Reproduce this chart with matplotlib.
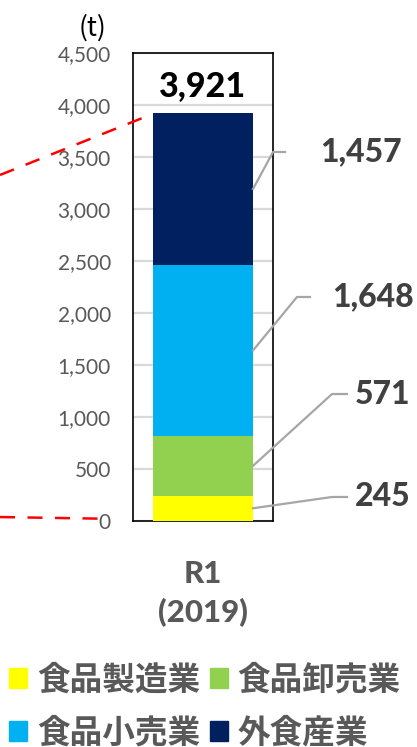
import numpy as np
import matplotlib
matplotlib.use("Agg")
import matplotlib.pyplot as plt
from matplotlib.patches import Patch

plt.rcParams['font.family'] = ['Lato', 'Noto Sans CJK JP', 'DejaVu Sans']

# data
category = "R1\n(2019)"
sectors = ["食品製造業", "食品卸売業", "食品小売業", "外食産業"]
values = [245, 571, 1648, 1457]
colors = ['#FFFF00', '#92D050', '#00B0F0', '#002060']

# dashed connectors coming from the (cut-off) previous bars
trend_top_x = [-2.03, -0.58]
trend_top_y = [3327, 3885]
trend_bottom_x = [-2.03, -1.0]
trend_bottom_y = [38, 22]

# leader line layout: (elbow x, elbow y, end x, text x), bottom to top
leader_layout = [(1.29, 231, 1.44, 1.52),
                 (1.29, 1221, 1.44, 1.52),
                 (0.94, 2154, 1.07, 1.29),
                 (0.70, 3548, 0.82, 1.17)]

label_gray = '#595959'
value_gray = '#404040'
leader_gray = '#A6A6A6'

fig = plt.figure(figsize=(4.17, 7.47), dpi=100)
ax = fig.add_axes([133/417, 1-521/747, 140/417, 468/747])

bottom = 0
for v, c in zip(values, colors):
    ax.bar(0, v, width=1.0, bottom=bottom, color=c, zorder=3)
    bottom += v
total = bottom

ax.set_xlim(-0.7, 0.7)
ax.set_ylim(0, 4500)
ax.set_yticks(np.arange(0, 4501, 500))
ax.set_yticklabels([f"{t:,}" for t in range(0, 4501, 500)])
ax.set_xticks([0])
ax.set_xticklabels([category])
ax.tick_params(axis='y', length=0, pad=16, labelsize=15, labelcolor=label_gray)
ax.tick_params(axis='x', length=0, pad=28)
for lbl in ax.get_xticklabels():
    lbl.set_fontsize(22.5)
    lbl.set_fontweight('black')
    lbl.set_color(label_gray)
    lbl.set_linespacing(1.4)
ax.grid(axis='y', color='#D9D9D9', linewidth=1.6, zorder=0)
for s in ax.spines.values():
    s.set_color('black')
    s.set_linewidth(1.2)

# total on top
ax.annotate(f"{total:,}", xy=(0, total), xytext=(0, 19), textcoords='offset points',
            ha='center', va='center', fontsize=24.5, fontweight='black', color='black')

# value labels with leader lines
cum = np.cumsum([0] + values)
for i, v in enumerate(values):
    mid = (cum[i] + cum[i+1]) / 2
    ex, ey, endx, tx = leader_layout[i]
    ax.plot([0.5, ex, endx], [mid, ey, ey], color=leader_gray, linewidth=1.6,
            clip_on=False, zorder=4)
    ax.text(tx, ey, f"{v:,}", ha='left', va='center', fontsize=23,
            fontweight='black', color=value_gray, clip_on=False)

# red dashed trend lines
for xs, ys in [(trend_top_x, trend_top_y), (trend_bottom_x, trend_bottom_y)]:
    ax.plot(xs, ys, color='#FF0000', linewidth=1.8, dashes=(6, 5), clip_on=False, zorder=5)

# unit
fig.text(106/417, 1-28/747, "(t)", ha='right', va='center', fontsize=19,
         family=['Noto Sans CJK JP', 'DejaVu Sans'], color='black')

# legend (row-major order for 2 columns)
handles = [Patch(color=c) for c in colors]
order = [0, 2, 1, 3]
fig.legend([handles[i] for i in order], [sectors[i] for i in order], ncol=2,
           loc='upper left', bbox_to_anchor=(11/417 - 0.012, 1-660/747), frameon=False,
           prop={'family': ['Noto Sans CJK JP'], 'weight': 'bold', 'size': 23.5},
           labelcolor=label_gray, handlelength=0.55, handleheight=0.55,
           handletextpad=0.3, columnspacing=0.3, labelspacing=0.62,
           borderaxespad=0, borderpad=0.1)

fig.savefig("out.png", dpi=100)
